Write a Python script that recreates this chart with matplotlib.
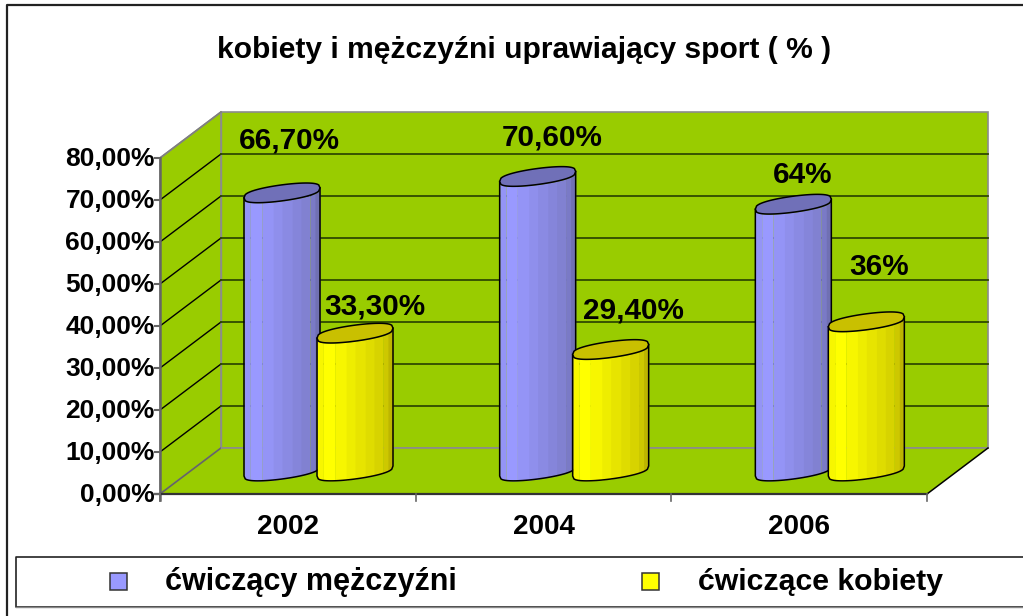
#!/usr/bin/env python3
# -*- coding: utf-8 -*-

import numpy as np
import matplotlib
matplotlib.use('Agg')
import matplotlib.pyplot as plt
from matplotlib.patches import Rectangle, Polygon

# data
years = ['2002', '2004', '2006']
men = [66.7, 70.6, 64.0]
women = [33.3, 29.4, 36.0]
men_labels = ['66,70%', '70,60%', '64%']
women_labels = ['33,30%', '29,40%', '36%']
tick_values = [0, 10, 20, 30, 40, 50, 60, 70, 80]
tick_labels = ['0,00%', '10,00%', '20,00%', '30,00%', '40,00%',
               '50,00%', '60,00%', '70,00%', '80,00%']
series_names = ['ćwiczący mężczyźni', 'ćwiczące kobiety']

# hand placed data labels (offset from the cylinder top, varies per bar)
men_label_up = [52, 39, 29]
men_label_dx = [45, 53, 47]
women_label_up = [27, 39, 55]
women_label_dx = [58, 61, 51]

GREEN = '#99cc00'
FONT = 'Liberation Sans'

# chart box in pixels
X0, X1 = 160, 927
Y0, PX_PER_UNIT = 494, 4.2
DX, DY = 61, -46
BAR_Y0 = 473
BAR_W = 76


def val_y(v):
    return Y0 - v * PX_PER_UNIT


def blend(c1, c2, t):
    return tuple(a + (b - a) * t for a, b in zip(c1, c2))


def cylinder(ax, x_left, value, light, dark, top_color, zorder):
    cx = x_left + BAR_W / 2
    r = BAR_W / 2
    top = BAR_Y0 - value * PX_PER_UNIT
    tilt, h = 5.0, 8.0

    xs = np.linspace(-r, r, 61)
    # flattened ellipse, closer to the polygon look of the original
    bulge = h * np.clip(1 - (xs / r) ** 2, 0, 1) ** 0.35
    slope = -tilt * xs / r
    outline_top = top + slope + bulge
    outline_bot = BAR_Y0 - 2 + slope + bulge

    # vertical shaded bands
    edges = [0, .07, .22, .38, .50, .63, .75, .86, .93, 1]
    shade = [.12, 0, .12, .25, .36, .48, .60, .75, 1]
    m = (xs + r) / (2 * r)
    for a, b, s in zip(edges[:-1], edges[1:], shade):
        keep = (m >= a - 1e-6) & (m <= b + 0.02)
        ax.fill_between(cx + xs[keep], outline_top[keep], outline_bot[keep],
                        color=blend(light, dark, s), lw=0, zorder=zorder)

    # outline of the body
    ax.plot(cx + np.r_[-r, xs, r], np.r_[top + tilt, outline_bot, top - tilt],
            color='black', lw=1.1, zorder=zorder + 0.1)

    # cap
    cap_up = top + slope - bulge
    poly = np.r_[np.c_[cx + xs, outline_top], np.c_[cx + xs[::-1], cap_up[::-1]]]
    ax.add_patch(Polygon(poly, closed=True, facecolor=top_color,
                         edgecolor='black', lw=1.1, zorder=zorder + 0.2))


fig = plt.figure(figsize=(10.23, 6.16), dpi=100)
ax = fig.add_axes([0, 0, 1, 1])
ax.set_xlim(0, 1023)
ax.set_ylim(616, 0)
ax.axis('off')

# outer frame runs off the right and bottom edges
ax.plot([1030, 6.5, 6.5], [5, 5, 620], color='#222222', lw=1.6, zorder=1)

ax.text(524, 50, 'kobiety i mężczyźni uprawiający sport ( % )', ha='center',
        va='center', fontsize=21.6, fontweight='bold', family=FONT)

# walls and floor
y_top = val_y(80)
ax.add_patch(Polygon([(X0 + DX, Y0 + DY), (X1 + DX, Y0 + DY),
                      (X1 + DX, y_top + DY), (X0 + DX, y_top + DY)],
                     facecolor=GREEN, edgecolor='#8c8c8c', lw=1.2, zorder=2))
ax.add_patch(Polygon([(X0, Y0), (X0 + DX, Y0 + DY), (X0 + DX, y_top + DY), (X0, y_top)],
                     facecolor=GREEN, edgecolor='#8c8c8c', lw=1.2, zorder=2))
ax.add_patch(Polygon([(X0, Y0), (X1, Y0), (X1 + DX, Y0 + DY), (X0 + DX, Y0 + DY)],
                     facecolor=GREEN, edgecolor='none', zorder=2))
ax.plot([X0 + DX, X1 + DX], [Y0 + DY, Y0 + DY], color='#8c8c8c', lw=1.2, zorder=2.1)
ax.plot([X0, X0 + DX], [Y0, Y0 + DY], color='#666666', lw=1.2, zorder=2.1)
ax.plot([X1, X1 + DX], [Y0, Y0 + DY], color='black', lw=1.1, zorder=2.1)
ax.plot([X0 + DX, X0 + DX], [Y0 + DY, y_top + DY], color='#8c8c8c', lw=1, zorder=2.1)
ax.plot([X0, X0 + DX], [y_top, y_top + DY], color='#808080', lw=1.2, zorder=2.1)

# gridlines
for v in tick_values[1:-1]:
    y = val_y(v)
    ax.plot([X0, X0 + DX], [y, y + DY], color='black', lw=1, zorder=2.2)
    ax.plot([X0 + DX, X1 + DX], [y + DY, y + DY], color='#2f4a00', lw=1.3, zorder=2.2)

# axes and ticks
ax.plot([X0, X0], [Y0 + 6, y_top], color='#666666', lw=1.8, zorder=3)
ax.plot([X0 - 5, X1], [Y0, Y0], color='#333333', lw=1.6, zorder=3)
for v, lab in zip(tick_values, tick_labels):
    y = val_y(v)
    ax.plot([X0 - 5, X0], [y, y], color='#666666', lw=1.5, zorder=3)
    ax.text(155, y + 1.5, lab, ha='right', va='center', fontsize=19,
            fontweight='bold', family=FONT)
group_w = (X1 - X0) / len(years)
for i in range(len(years) + 1):
    ax.plot([X0 + i * group_w] * 2, [Y0, Y0 + 7], color='#666666', lw=1.2, zorder=3)

# cylinders
blue = ((0.6, 0.6, 1.0), (0.44, 0.44, 0.70), '#7070b8')
yellow = ((1.0, 1.0, 0.0), (0.74, 0.71, 0.0), '#c9c000')
for i, year in enumerate(years):
    x_man = 244 + i * group_w
    x_wom = x_man + 73
    cylinder(ax, x_man, men[i], *blue, zorder=4 + i)
    cylinder(ax, x_wom, women[i], *yellow, zorder=4.5 + i)
    ax.text(x_man + men_label_dx[i],
            BAR_Y0 - men[i] * PX_PER_UNIT - men_label_up[i], men_labels[i],
            ha='center', va='center', fontsize=21.4, fontweight='bold',
            family=FONT, zorder=8)
    ax.text(x_wom + women_label_dx[i],
            BAR_Y0 - women[i] * PX_PER_UNIT - women_label_up[i], women_labels[i],
            ha='center', va='center', fontsize=21.4, fontweight='bold',
            family=FONT, zorder=8)
    ax.text(X0 + (i + 0.5) * group_w, 527, year, ha='center', va='center',
            fontsize=20, fontweight='bold', family=FONT)

# legend
ax.plot([1030, 16, 16, 1030], [556.5, 556.5, 606.5, 606.5], color='#222222', lw=1.2, zorder=3)
ax.plot([16, 1030], [607, 607], color='#888888', lw=1, zorder=3)
ax.add_patch(Rectangle((109.5, 573), 17, 17, facecolor='#9999ff', edgecolor='#333333', lw=1.1))
ax.add_patch(Rectangle((641.5, 573), 17, 17, facecolor='#ffff00', edgecolor='#333333', lw=1.1))
ax.text(165, 582, series_names[0], ha='left', va='center', fontsize=22,
        fontweight='bold', family=FONT)
ax.text(698, 582, series_names[1], ha='left', va='center', fontsize=21.8,
        fontweight='bold', family=FONT)

fig.savefig('out.png', dpi=100)
